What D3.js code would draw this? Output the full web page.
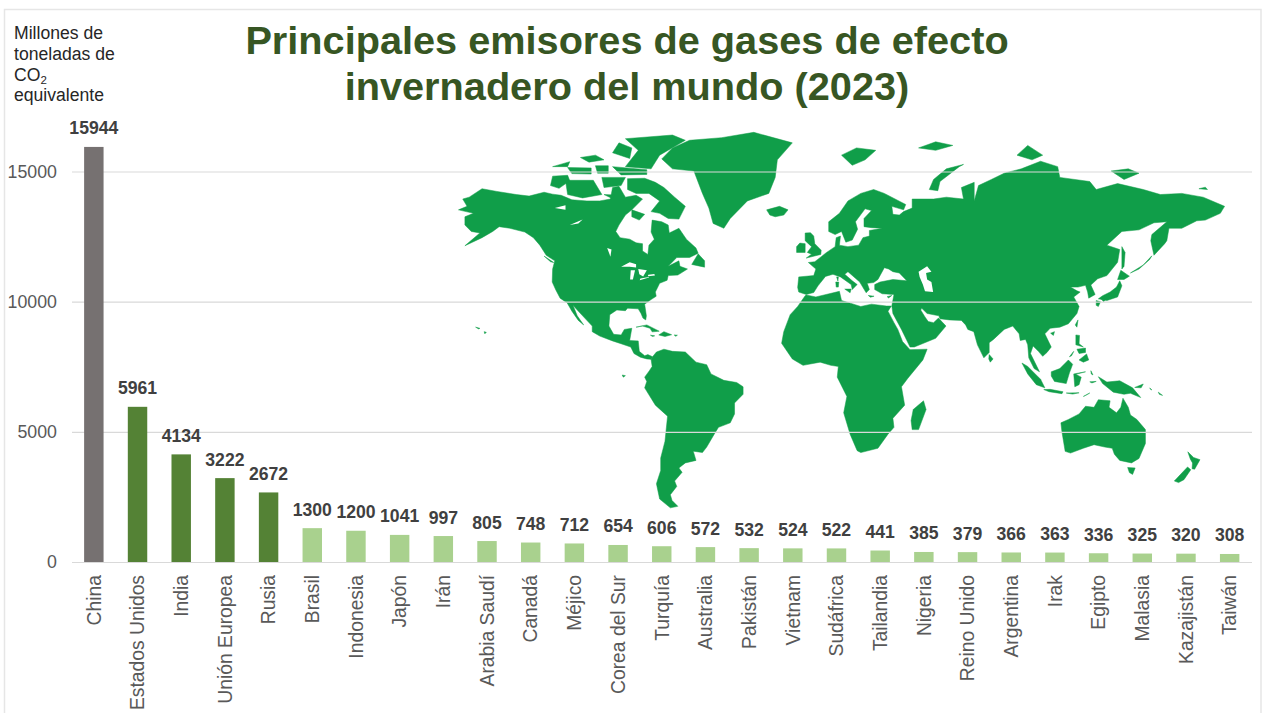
<!DOCTYPE html>
<html>
<head>
<meta charset="utf-8">
<script src="https://cdn.jsdelivr.net/npm/d3@7"></script>
<style>
    body { margin: 0; background: #fff; }
    text { font-family: "Liberation Sans", Arial, sans-serif; }
</style>
</head>
<body>
<div id="chart"></div>
<script>
// chart data
const paises = ["China", "Estados Unidos", "India", "Unión Europea", "Rusia", "Brasil", "Indonesia", "Japón", "Irán",
    "Arabia Saudí", "Canadá", "Méjico", "Corea del Sur", "Turquía", "Australia", "Pakistán", "Vietnam", "Sudáfrica",
    "Tailandia", "Nigeria", "Reino Unido", "Argentina", "Irak", "Egipto", "Malasia", "Kazajistán", "Taiwán"];
const emisiones = [15944, 5961, 4134, 3222, 2672, 1300, 1200, 1041, 997, 805, 748, 712, 654, 606, 572, 532, 524, 522,
    441, 385, 379, 366, 363, 336, 325, 320, 308];
const grupos = ["primero", "alto", "alto", "alto", "alto", "resto", "resto", "resto", "resto", "resto", "resto", "resto",
    "resto", "resto", "resto", "resto", "resto", "resto", "resto", "resto", "resto", "resto", "resto", "resto", "resto",
    "resto", "resto"];
const yTicks = [0, 5000, 10000, 15000];
const titulo = ["Principales emisores de gases de efecto", "invernadero del mundo (2023)"];

// rough world outlines, [lon, lat]
const tierra = [
    // north america
    [[-168,65.5],[-164,66.5],[-166,68.5],[-163,69],[-157,71.2],[-150,70.5],[-141,69.7],[-135,69.3],[-128,70.3],[-124,69.8],[-120,69.5],[-115,68.3],[-108,68],[-102,68],[-97,68.5],[-96,71.5],[-93,71.8],[-90,69],[-85,69.5],[-82,68.5],[-87,65.5],[-90,64],[-93,61],[-94.5,59],[-92.5,57],[-88,56.5],[-85,55.3],[-82,55],[-82,52.5],[-79.5,51.3],[-79,54.5],[-76.5,56.5],[-78,58.8],[-77.5,62.5],[-73,62],[-70,61],[-69.5,58.5],[-65,60],[-61.5,56.5],[-57,53.5],[-56,51.7],[-60,50.2],[-66,50.2],[-70,47],[-65,49],[-64.5,47],[-61,46],[-65.5,43.7],[-70,43.5],[-70.5,41.7],[-74,40.5],[-76,37],[-75.6,35.3],[-78,33.9],[-81,32],[-80.2,27],[-80.5,25.2],[-81.8,26],[-82.7,28],[-84,30],[-89,30.3],[-90,29.2],[-94,29.5],[-97.3,27.5],[-97.7,22.5],[-95.5,18.8],[-92,18.5],[-90.5,21],[-87,21.5],[-88,16],[-84,15.8],[-83.5,11],[-81,9],[-79.5,9.5],[-77.3,8.5],[-78,7.3],[-80,7.5],[-83,8.3],[-86,10],[-87.5,13],[-92,14.5],[-96,15.8],[-102,18],[-105.5,20],[-105.5,22.5],[-109,26],[-112.5,29.5],[-114.5,31.5],[-112.5,27],[-109.5,23],[-112,25],[-115,29],[-117.2,32.5],[-120.5,34.5],[-122.5,37.8],[-124.2,41],[-124,46],[-123,49],[-127,51],[-130,54.5],[-133,57],[-137,58.8],[-144,60],[-149,60.5],[-152,59],[-157,57],[-165,54.3],[-158,58.5],[-162,59],[-165,61],[-165,63.5],[-161,64.5]],
    // greenland
    [[-73,78.2],[-68,76],[-58,75.5],[-54,70],[-51,66],[-49,61.5],[-44,60],[-41,63],[-33,68],[-23,70],[-20,74],[-19,78],[-12,81.5],[-30,83.5],[-45,82.5],[-60,82],[-68,80.5]],
    // arctic canada
    [[-81,73.8],[-76,72.8],[-72,71.5],[-67,69],[-62,66.5],[-65,62.8],[-70,63],[-74,64.5],[-78,65],[-74,68],[-79,70],[-85,70],[-89,71],[-89,73.7]],
    [[-118,73.3],[-105,73.3],[-101,69.7],[-110,68.8],[-117,69.7]],
    [[-125,72],[-124,74.3],[-117,74.5],[-116,73.2],[-121,71.3]],
    [[-90,76.5],[-78,76],[-74,79],[-62,82],[-68,83],[-90,82.3],[-84,80]],
    [[-96,76.5],[-80,75.8],[-80,74.7],[-92,74.6]],
    [[-96,79.5],[-88,78.3],[-87,80.5],[-93,81.5]],
    [[-117,76.3],[-106,76.2],[-106,74.8],[-115,74.9]],
    [[-124,76.5],[-116,77.6],[-117,76.5]],
    [[-104,76.7],[-98,76.7],[-98,75],[-103,75]],
    [[-111,78.5],[-104,79],[-100,78],[-107,77.5]],
    [[-101,74],[-90,74],[-92,72],[-100,71.5]],
    [[-100,69.7],[-95,69.6],[-96,68.6]],
    [[-87,65.5],[-81,64.2],[-83.5,62.5],[-87,63.5]],
    [[-59,47.7],[-53,46.7],[-53,49],[-56,51.5]],
    [[-128,50.7],[-123.5,48.4],[-125,48.7]],
    // caribbean, pacific
    [[-85,22],[-80,23],[-74.2,20.2],[-77.5,19.9],[-78.5,21.5],[-82,22.5]],
    [[-74.4,18.5],[-72,20],[-68.4,18.6],[-71.5,17.8]],
    [[-78.3,18.4],[-76.3,18.1],[-77.3,17.8]],
    [[-67.2,18.5],[-65.7,18.4],[-66.5,17.9]],
    [[-156,20],[-155,19.7],[-155.7,19]],
    [[-160,22],[-158,21.5],[-158.5,21.2]],
    [[-91.5,0],[-90,-0.3],[-91,-1]],
    // south america
    [[-77.3,8.5],[-75.5,10.7],[-72,12],[-68,11],[-62,10.7],[-57,6],[-52,4.8],[-50,0.5],[-44,-2.5],[-38,-3.5],[-35,-5.5],[-35,-9],[-39,-13],[-39,-18],[-41,-22],[-46.5,-24],[-48.5,-27],[-52,-32.5],[-54,-34.8],[-58.3,-34.2],[-57,-38],[-62,-39],[-65,-41],[-63.5,-42.7],[-67,-46],[-66,-48],[-69,-51],[-68.2,-53],[-65.5,-55],[-69,-55.5],[-74,-52.5],[-75.5,-47],[-73.5,-42],[-73.5,-37],[-71.5,-30],[-70.3,-19],[-76,-14],[-81,-6],[-80,-3],[-81,-1],[-78.8,2],[-77.5,4],[-78,7.3]],
    // eurasia
    [[-9,37],[-9.5,38.8],[-9,43],[-2,43.5],[-1,46],[-4.5,48.4],[-1.5,48.7],[1.5,50.5],[4,52],[8,54],[8.5,57],[10.5,57.5],[10,54.5],[14,54],[19,54.5],[21,57],[24,57.5],[24,59.3],[30,60],[25,60.2],[21.5,60.5],[21.5,63],[25,65.3],[22,65.8],[17.5,62],[18.5,59.7],[16,56.2],[13,55.5],[11,59],[8,58],[5,59],[5,62],[10,64.5],[14,68],[20,70],[26,71],[31,70],[41,67],[40,65.5],[34.5,66.5],[35,64.2],[38,64],[40,65],[44,66],[44,68.5],[54,68.5],[60,69],[68,68.5],[67,71.5],[73,72.8],[73,68],[75,72],[81,73.5],[87,75],[95,76],[104,77.7],[112,76.5],[113,74],[127,73],[130,71],[140,72.5],[152,71],[160,69.7],[170,70],[180,69],[190,66.5],[188,64.5],[181,62.5],[177,62.3],[170,60],[164,60],[163,56],[162,55],[157,51],[155.5,56],[156,58],[163,62],[157,61.7],[150,59.5],[142,59],[135,54.5],[141,53],[140,48.5],[135,43.5],[130.7,42.3],[127.5,39.8],[129.5,36],[126.5,34.5],[126,37],[125,39.7],[121.5,39],[118,39],[121,37.5],[122.5,37],[119.5,35],[122,31],[121,28],[117,23.5],[113,22],[108.5,21.5],[106,19],[109,13],[107,10.5],[105,8.7],[103,11],[100.5,13.5],[99.3,10],[103.5,1.5],[101,3],[98.5,8],[98,14],[97,16.5],[94.5,16],[94,19],[91,22.5],[87,21],[82,16.5],[80,15],[80,10.5],[77.5,8],[74.5,14],[72.8,20],[70,21],[69,23],[67,25],[61.5,25.2],[57,25.7],[56.5,27],[51,28],[48.5,30.2],[48,29.5],[50,26.5],[51.5,24.5],[54,24],[56.3,26],[59.8,22.5],[55,17],[45,13],[43,13],[39,21],[35,28],[34.5,31.3],[35.5,36],[30,36.3],[26.5,38],[26.5,40],[29,41],[35,42],[41.5,41.5],[38,44.5],[35,45],[33,46],[31,46.5],[28,42],[26,40.8],[23,40.5],[24,38],[22.5,36.7],[19.5,41],[14,45],[12.5,44],[16,41.5],[18.3,40],[16,38],[15.5,40],[10.5,43],[7,44],[3.5,43.2],[0,39.5],[-2,36.8],[-5.5,36]],
    // africa
    [[-5.5,35.8],[-1,35],[10,37.3],[11,33.5],[15.5,32.3],[20,31],[25,32],[32,31.2],[34.3,31.2],[32.7,29],[35.5,24],[37.3,21],[39.5,15.5],[43,11.8],[51,12],[49,7],[42,-1.5],[39,-5.5],[40.5,-14],[35,-20],[35.5,-24],[32.7,-27],[28,-33],[20,-34.8],[18.3,-34],[15,-27],[12,-17.5],[13.5,-10],[9,-1],[9.5,4],[6,4.5],[1,6],[-7,4.5],[-12,7.5],[-17,14.7],[-16,20],[-13,27.5],[-9.5,31],[-6,35.5]],
    [[49.3,-12],[50.5,-16],[47,-25],[44,-25],[43.5,-21],[44.5,-16]],
    // australia, nz
    [[113.5,-22],[114,-26],[115.5,-34.3],[118,-35],[124,-33],[129,-31.5],[134,-32.5],[137.5,-33],[138.5,-35.5],[141,-38],[146.5,-39],[150,-37.2],[153,-31],[153,-25],[149,-20.5],[146,-18.5],[145,-15],[142.5,-10.8],[141.5,-15],[139.5,-17.5],[136,-15],[136.5,-12],[131,-11.5],[129,-15],[125,-14.5],[122,-18],[117,-20.5]],
    [[144.7,-40.8],[148.2,-41],[147,-43.5],[145.5,-42.8]],
    [[172.8,-34.5],[175.5,-36.8],[178.5,-37.7],[176,-41.5],[174.8,-41.3],[175,-39],[174,-37.5]],
    [[172.7,-40.6],[174.2,-41.7],[171,-45.5],[168.5,-46.6],[166.5,-46],[170,-43]],
    // europe islands
    [[-5.5,50],[1.3,51.3],[1.5,52.8],[-1.5,55],[-2,57.5],[-3.5,58.6],[-6,58.5],[-6,56],[-3,54],[-5,52],[-3,51.4]],
    [[-10,52],[-6,52],[-6,55],[-8.5,55.2],[-10,54]],
    [[-24,65.5],[-18,66.5],[-14,65.5],[-16,64],[-20,63.5],[-22.5,64]],
    [[12.5,38.2],[15.5,38.2],[15,36.7]],
    [[8.3,41],[9.7,41],[9.5,39],[8.5,39]],
    [[8.7,43],[9.5,43],[9.3,41.4]],
    [[23.5,35.6],[26.2,35.3],[24.5,34.9]],
    [[32.3,35.1],[34.5,35.6],[33,34.6]],
    // arctic russia
    [[11,79],[16,76.8],[22,78],[27,80],[18,80.5]],
    [[52,71],[56,70.7],[57,73],[66,76.5],[68,77],[60,76],[54,73.5]],
    [[47,80.5],[55,80],[63,81],[55,81.7]],
    [[93,79],[100,78],[105,79],[98,81]],
    [[137,75.5],[143,73.5],[150,75],[145,76]],
    [[178,71.2],[182,71],[181,71.6]],
    // east asia
    [[142,54],[143.5,52],[143,47],[142,46],[142,50]],
    [[131,34.2],[135,33.5],[140,35],[142,39.5],[141,41.5],[139.5,39],[136.5,37],[133,35.5]],
    [[140,42],[141.5,45.5],[145.5,43.3],[143,42]],
    [[130,33.5],[132,33],[131,31],[130,31.5]],
    [[132.5,34],[134.5,34],[133.5,33]],
    [[146,44.5],[150,46],[155,49.5],[156,50.8],[152,47.5]],
    [[120.2,23],[121.5,25.2],[121,22]],
    [[108.7,19.3],[110.5,20],[110,18.3]],
    [[80,9.5],[81.8,7.5],[80.5,6],[79.8,7.5]],
    // indonesia, philippines, png
    [[95.3,5.6],[98,4],[104,-2],[106,-6],[102,-4.5],[98,0.5]],
    [[105.5,-6.8],[108.5,-6.7],[114.5,-7.8],[114,-8.7],[108,-7.8]],
    [[109,1.5],[113,3],[117,7],[119,5],[117.5,1],[116,-4],[110.5,-3],[109,-0.5]],
    [[119.5,0.5],[125,1.5],[120.5,0.3],[123,-1],[122,-4.5],[120,-5.5]],
    [[120.5,18.5],[122.2,18.3],[122,14.5],[124,13],[120.5,14]],
    [[122,7],[125.5,9.8],[126.5,7],[124,6]],
    [[121,12],[125,12.5],[125,10.5],[122,10]],
    [[117.5,8.5],[119.5,11],[118.5,9]],
    [[131,-0.8],[135,-3.3],[141,-2.7],[147,-6],[150.8,-10.5],[146,-8.5],[143,-9],[138,-8],[133,-4]],
    [[148,-5.8],[152,-4.2],[151,-6]],
    [[155,-6],[156,-7],[155.5,-6.8]],
    [[159,-8],[161,-9.5],[159.5,-9]],
    [[116,-8.4],[122,-8.3],[119,-8.9]],
    [[124,-10],[127,-8.4],[125,-9.5]],
    [[127.5,2],[128.5,0],[127.7,0.5]],
    [[127,-3.2],[130,-3],[128,-3.7]]
];
const agua = [
    [[47,45],[51,47],[53,45],[50.5,44.5],[51,42],[53,41],[53.8,37],[50,37.3],[49,40],[47.5,43]],
    [[-92,46.8],[-88,48.5],[-85,47.8],[-85,46.6],[-88,46.8]],
    [[-87.8,42],[-86.5,42],[-85.5,45.5],[-87.5,45.5]],
    [[-84,46],[-80,45.5],[-81.7,43.2],[-83.5,44]],
    [[-83.3,41.7],[-79,42.8],[-79,43],[-83,42.4]],
    [[-79.5,43.3],[-76.2,43.5],[-76.5,44.1],[-79.3,43.8]],
    [[-123,66],[-118,66.8],[-118,65.5]],
    [[-116,61],[-110,62.7],[-112,61.5]],
    [[-98.5,53.5],[-96.5,53],[-97,50.5]]
];

const colorGrupo = d3.scaleOrdinal()
    .domain(["primero", "alto", "resto"])
    .range(["#767171", "#548235", "#a9d18e"]);

const margin = {top: 0, right: 10, bottom: 0, left: 72};
const width = 1262, height = 713;
const y0 = 562, yTop = 171.5;

const svg = d3.select("#chart").append("svg")
    .attr("width", width)
    .attr("height", height)
    .style("display", "block");

// frame
svg.append("path")
    .attr("d", "M4.5,713V9.5H1261V713")
    .attr("fill", "none")
    .attr("stroke", "#e6e6e6")
    .attr("stroke-width", 1.5);

const x = d3.scaleBand()
    .domain(paises)
    .range([margin.left, width - margin.right - 0.5])
    .paddingInner(0.555)
    .paddingOuter(0.2775);

const y = d3.scaleLinear()
    .domain([0, 15000])
    .range([y0, yTop]);

// map, miller projection
const lonX = d3.scaleLinear().domain([0, 100]).range([818, 1032]);
const latY = d3.scaleLinear().domain([0, 1]).range([375, 252.4]);
const miller = lat => 1.25 * Math.log(Math.tan(Math.PI / 4 + 0.4 * lat * Math.PI / 180));
const mapLine = d3.line()
    .x(d => lonX(d[0]))
    .y(d => latY(miller(d[1])))
    .curve(d3.curveLinearClosed);

svg.append("g").selectAll("path")
    .data(tierra)
    .enter()
    .append("path")
    .attr("d", mapLine)
    .attr("fill", "#109e49")
    .attr("stroke", "#109e49")
    .attr("stroke-width", 0.5)
    .attr("stroke-linejoin", "round");

svg.append("g").selectAll("path")
    .data(agua)
    .enter()
    .append("path")
    .attr("d", mapLine)
    .attr("fill", "#fff");

// y axis + grid
const yAxis = svg.append("g")
    .attr("transform", "translate(" + margin.left + ",0)")
    .call(d3.axisLeft(y).tickValues(yTicks).tickFormat(d3.format("d")).tickSize(-(width - margin.left - margin.right)).tickPadding(15));
yAxis.select(".domain").remove();
yAxis.selectAll("line").attr("stroke", "#d9d9d9").attr("stroke-width", 1.2);
yAxis.selectAll("text")
    .attr("fill", "#595959")
    .style("font-size", "17.8px")
    .style("font-family", "'Liberation Sans', Arial, sans-serif");

// bars
svg.append("g").selectAll("rect")
    .data(emisiones)
    .enter()
    .append("rect")
    .attr("x", (d, i) => x(paises[i]))
    .attr("y", d => y(d))
    .attr("width", x.bandwidth())
    .attr("height", d => y(0) - y(d))
    .attr("fill", (d, i) => colorGrupo(grupos[i]));

// value labels
svg.append("g").selectAll("text")
    .data(emisiones)
    .enter()
    .append("text")
    .attr("x", (d, i) => x(paises[i]) + x.bandwidth() / 2)
    .attr("y", d => y(d) - 12.5)
    .attr("text-anchor", "middle")
    .attr("fill", "#404040")
    .style("font-size", "17.6px")
    .style("font-weight", "bold")
    .text(d => d);

// x axis
const xAxis = svg.append("g")
    .attr("transform", "translate(0," + y0 + ")")
    .call(d3.axisBottom(x).tickSize(0));
xAxis.select(".domain").attr("stroke", "#d9d9d9").attr("stroke-width", 1.2);
xAxis.selectAll("text")
    .attr("transform", "rotate(-90)")
    .attr("x", -13)
    .attr("y", 0)
    .attr("dy", "0.35em")
    .attr("text-anchor", "end")
    .attr("fill", "#595959")
    .style("font-size", "19.3px")
    .style("font-family", "'Liberation Sans', Arial, sans-serif");

// title
svg.append("g").selectAll("text")
    .data(titulo)
    .enter()
    .append("text")
    .attr("x", 627)
    .attr("y", (d, i) => 54 + i * 46)
    .attr("text-anchor", "middle")
    .attr("fill", "#375623")
    .style("font-size", "39.7px")
    .style("font-weight", "bold")
    .text(d => d);

// y axis title
const yTitle = svg.append("g")
    .attr("fill", "#262626")
    .style("font-size", "17.6px");
yTitle.append("text").attr("x", 14).attr("y", 39).text("Millones de");
yTitle.append("text").attr("x", 14).attr("y", 60).text("toneladas de");
const co2 = yTitle.append("text").attr("x", 14).attr("y", 81);
co2.append("tspan").text("CO");
co2.append("tspan").attr("dy", 3).style("font-size", "11.5px").text("2");
yTitle.append("text").attr("x", 14).attr("y", 101).text("equivalente");
</script>
</body>
</html>
